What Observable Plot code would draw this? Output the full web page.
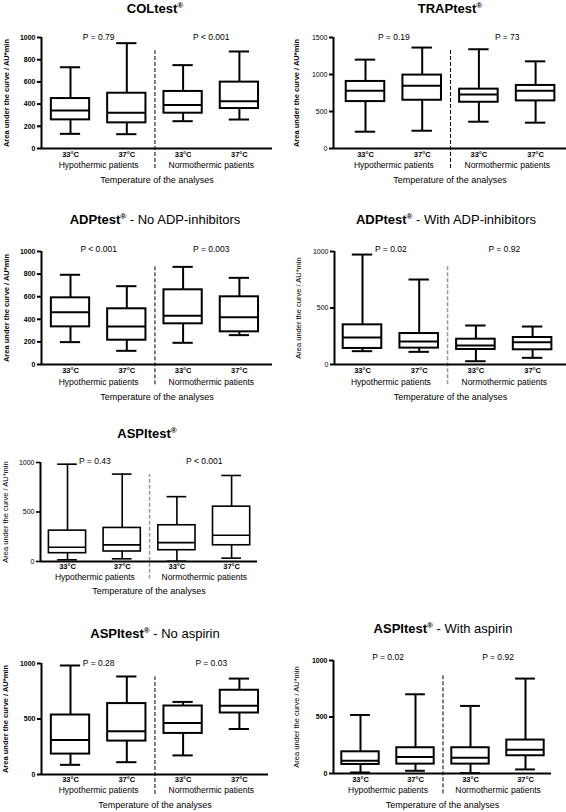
<!DOCTYPE html>
<html><head><meta charset="utf-8">
<script src="https://cdn.jsdelivr.net/npm/d3@7"></script>
<script src="https://cdn.jsdelivr.net/npm/@observablehq/plot@0.6"></script>
<style>
body{margin:0;background:#fff;}
#page{position:relative;width:566px;height:812px;font-family:"Liberation Sans",Arial,sans-serif;overflow:hidden;}
.title{position:absolute;transform:translate(-50%,-50%);white-space:nowrap;font-size:13px;line-height:1;color:#000;}
.title sup{font-size:8px;vertical-align:5px;line-height:0;}
.panel{position:absolute;}
</style></head><body><div id="page"></div>
<script>
// ---- data: [min, Q1, median, Q3, max] per group ----
const tickLabels = ["33°C", "37°C", "33°C", "37°C"];
const groupLabels = ["Hypothermic patients", "Normothermic patients"];
const yLabel = "Area under the curve / AU*min";
const xLabel = "Temperature of the analyses";

const colTest  = [[132,258,342,450,732],[129,231,321,498,949],[246,318,393,514,751],[261,360,426,598,874]];
const colP     = ["P = 0.79", "P < 0.001"];
const trapTest = [[227,634,779,906,1201],[240,652,847,992,1364],[362,625,729,802,1341],[349,643,779,852,1178]];
const trapP    = ["P = 0.19", "P = 73"];
const adpNo    = [[198,333,463,590,794],[121,215,336,493,693],[192,360,431,661,864],[260,289,419,599,767]];
const adpNoP   = ["P < 0.001", "P = 0.003"];
const adpWith  = [[118,142,239,351,973],[112,145,204,274,752],[29,133,168,224,345],[59,130,197,239,336]];
const adpWithP = ["P = 0.02", "P = 0.92"];
const aspi     = [[17,84,144,312,983],[27,101,168,339,883],[3,114,191,366,655],[34,164,265,554,869]];
const aspiP    = ["P = 0.43", "P < 0.001"];
const aspiNo   = [[87,184,310,536,982],[111,301,389,639,883],[172,370,464,617,654],[410,554,620,759,864]];
const aspiNoP  = ["P = 0.28", "P = 0.03"];
const aspiWith = [[9,80,112,192,518],[24,83,145,228,701],[3,83,139,228,598],[36,157,210,296,840]];
const aspiWithP= ["P = 0.02", "P = 0.92"];

const ticks200 = [0,200,400,600,800,1000];
const ticks500 = [0,500,1000];
const ticks1500 = [0,500,1000,1500];

// ---- layout (page pixels) ----
const panels = [
  {rows: colTest, p: colP, bold: "COLtest", rest: "", tx:155, ty:8,
   left:0, top:20, width:283, height:170, axisLeft:41, axisRight:272, c1:70, step:56.3, yTop:37, y0:148,
   yMax:1000, ticks:ticks200, tickPad:3, groupDy:19, tempDy:34, pDy:-4, labelDx:-35, boldTicks:true, boldLabel:true, sep:"black", sw:2},
  {rows: trapTest, p: trapP, bold: "TRAPtest", rest: "", tx:450, ty:8,
   left:283, top:20, width:283, height:170, axisLeft:333, axisRight:566, c1:365, step:56.7, yTop:37, y0:148,
   yMax:1500, ticks:ticks1500, tickPad:3, groupDy:19, tempDy:34, pDy:-4, labelDx:-37, boldTicks:false, boldLabel:true, sep:"black", sw:2},
  {rows: adpNo, p: adpNoP, bold: "ADPtest", rest: " - No ADP-inhibitors", tx:155, ty:219,
   left:0, top:235, width:283, height:170, axisLeft:41, axisRight:272, c1:70, step:56.3, yTop:251, y0:364,
   yMax:1000, ticks:ticks200, tickPad:3, groupDy:20, tempDy:35, pDy:-6, labelDx:-35, boldTicks:true, boldLabel:true, sep:"black", sw:2},
  {rows: adpWith, p: adpWithP, bold: "ADPtest", rest: " - With ADP-inhibitors", tx:446, ty:219,
   left:283, top:235, width:283, height:170, axisLeft:334, axisRight:566, c1:362, step:56.7, yTop:251, y0:364,
   yMax:1000, ticks:ticks500, tickPad:3, groupDy:20, tempDy:35, pDy:-6, labelDx:-36, boldTicks:false, boldLabel:false, sep:"#999", sw:2},
  {rows: aspi, p: aspiP, bold: "ASPItest", rest: "", tx:147, ty:433,
   left:0, top:445, width:283, height:155, axisLeft:40, axisRight:257, c1:67, step:54.7, yTop:462, y0:561,
   yMax:1000, ticks:ticks500, tickPad:2, groupDy:18, tempDy:32, pDy:-5, labelDx:-35, boldTicks:false, boldLabel:false, sep:"#999", sw:1.6},
  {rows: aspiNo, p: aspiNoP, bold: "ASPItest", rest: " - No aspirin", tx:155, ty:633,
   left:0, top:645, width:283, height:167, axisLeft:41, axisRight:268, c1:70, step:56.3, yTop:663, y0:774,
   yMax:1000, ticks:ticks500, tickPad:2, groupDy:18, tempDy:33, pDy:-4, labelDx:-36, boldTicks:true, boldLabel:true, sep:"black", sw:2},
  {rows: aspiWith, p: aspiWithP, bold: "ASPItest", rest: " - With aspirin", tx:443, ty:628,
   left:283, top:645, width:283, height:167, axisLeft:333, axisRight:551, c1:360, step:55, yTop:660, y0:773,
   yMax:1000, ticks:ticks500, tickPad:3, groupDy:19, tempDy:34, pDy:-7, labelDx:-37, boldTicks:true, boldLabel:false, sep:"black", sw:2}
];

const page = document.getElementById("page");
const font = "Liberation Sans, Arial, sans-serif";

for (const cfg of panels) {
  const t = document.createElement("div");
  t.className = "title";
  t.style.left = cfg.tx + "px";
  t.style.top = cfg.ty + "px";
  t.innerHTML = "<b>" + cfg.bold + "<sup>®</sup></b>" + cfg.rest;
  page.appendChild(t);

  const lo = 1 - (cfg.c1 - cfg.axisLeft) / cfg.step;
  const hi = 4 + (cfg.axisRight - (cfg.c1 + 3 * cfg.step)) / cfg.step;
  const data = cfg.rows.map((r, i) => ({pos: i + 1, min: r[0], q1: r[1], med: r[2], q3: r[3], max: r[4], label: tickLabels[i]}));
  const hw = 0.34, cw = 0.18, sw = cfg.sw;
  const ymax = cfg.yMax;

  const svg = Plot.plot({
    width: cfg.width, height: cfg.height,
    marginLeft: cfg.axisLeft - cfg.left,
    marginRight: cfg.left + cfg.width - cfg.axisRight,
    marginTop: cfg.yTop - cfg.top,
    marginBottom: cfg.top + cfg.height - cfg.y0,
    x: {domain: [lo, hi], axis: null},
    y: {domain: [0, ymax], axis: null},
    style: {fontFamily: font, background: "white", overflow: "visible", color: "black"},
    marks: [
      Plot.axisY({ticks: cfg.ticks, tickFormat: d => String(d), tickSize: 4, tickPadding: 2, fontSize: 7, fontWeight: cfg.boldTicks ? "bold" : "normal", strokeWidth: sw, label: null}),
      Plot.ruleX([2.5], {y1: -0.18 * ymax, y2: 0.88 * ymax, stroke: cfg.sep, strokeWidth: cfg.sep === "black" ? 1 : 1.5, strokeDasharray: "4,2"}),
      Plot.ruleX(data, {x: "pos", y1: "min", y2: "max", strokeWidth: sw}),
      Plot.ruleY(data, {y: "min", x1: d => d.pos - cw, x2: d => d.pos + cw, strokeWidth: sw}),
      Plot.ruleY(data, {y: "max", x1: d => d.pos - cw, x2: d => d.pos + cw, strokeWidth: sw}),
      Plot.rect(data, {x1: d => d.pos - hw, x2: d => d.pos + hw, y1: "q1", y2: "q3", fill: "white", stroke: "black", strokeWidth: sw}),
      Plot.ruleY(data, {y: "med", x1: d => d.pos - hw, x2: d => d.pos + hw, strokeWidth: sw}),
      Plot.ruleX([lo], {y1: 0, y2: ymax, strokeWidth: 2}),
      Plot.ruleY([0], {x1: lo, x2: hi, strokeWidth: 2}),
      Plot.text(data, {x: "pos", text: "label", frameAnchor: "bottom", dy: cfg.tickPad, lineAnchor: "top", fontSize: 7.5, fontWeight: "bold"}),
      Plot.text(groupLabels, {x: (d, i) => 1.5 + 2 * i, frameAnchor: "bottom", dy: cfg.groupDy, fontSize: 8.5}),
      Plot.text([xLabel], {frameAnchor: "bottom", dy: cfg.tempDy, fontSize: 9}),
      Plot.text(cfg.p, {x: (d, i) => 1.5 + 2 * i, frameAnchor: "top", dy: cfg.pDy, fontSize: 8.5}),
      Plot.text([yLabel], {frameAnchor: "left", textAnchor: "middle", dx: cfg.labelDx, rotate: -90, fontSize: 7.5, fontWeight: cfg.boldLabel ? "bold" : "normal"})
    ]
  });
  const holder = document.createElement("div");
  holder.className = "panel";
  holder.style.left = cfg.left + "px";
  holder.style.top = cfg.top + "px";
  holder.appendChild(svg);
  page.appendChild(holder);
}
</script>
</body></html>
